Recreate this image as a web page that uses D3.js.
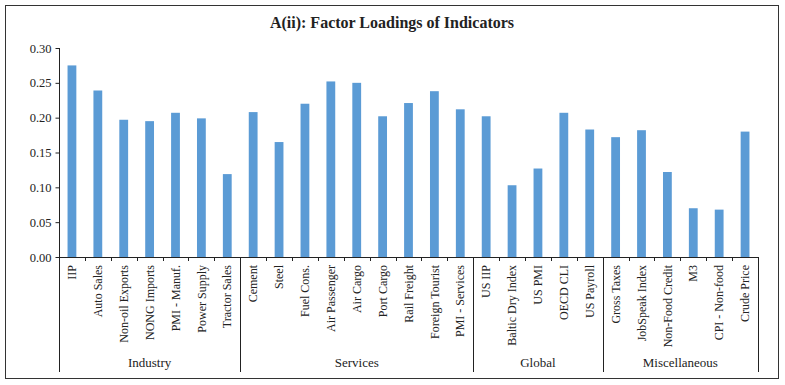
<!DOCTYPE html>
<html>
<head>
<meta charset="utf-8">
<script src="https://cdn.jsdelivr.net/npm/d3@7"></script>
<style>
  body { margin: 0; background: #fff; }
  text { font-family: "Liberation Serif", "DejaVu Serif", serif; fill: #222; }
</style>
</head>
<body>
<div id="chart"></div>
<script>
// indicator names, in chart order
var indicators = ["IIP", "Auto Sales", "Non-oil Exports", "NONG Imports", "PMI - Manuf.", "Power Supply", "Tractor Sales",
  "Cement", "Steel", "Fuel Cons.", "Air Passenger", "Air Cargo", "Port Cargo", "Rail Freight", "Foreign Tourist", "PMI - Services",
  "US IIP", "Baltic Dry Index", "US PMI", "OECD CLI", "US Payroll",
  "Gross Taxes", "JobSpeak Index", "Non-Food Credit", "M3", "CPI - Non-food", "Crude Price"];
var loadings = [0.275, 0.239, 0.197, 0.195, 0.207, 0.199, 0.119,
  0.208, 0.165, 0.220, 0.252, 0.250, 0.202, 0.221, 0.238, 0.212,
  0.202, 0.103, 0.127, 0.207, 0.183,
  0.172, 0.182, 0.122, 0.070, 0.068, 0.180];
var groupNames = ["Industry", "Services", "Global", "Miscellaneous"];
var groupSizes = [7, 9, 5, 6];
var yTicks = [0, 0.05, 0.10, 0.15, 0.20, 0.25, 0.30];

var width = 785, height = 385;
var plotLeft = 59, plotRight = 758, plotTop = 48, plotBottom = 257, groupBottom = 372;

var svg = d3.select("#chart").append("svg")
  .attr("width", width)
  .attr("height", height);

// outer frame
svg.append("rect")
  .attr("x", 5.5).attr("y", 5.5)
  .attr("width", 773).attr("height", 373)
  .attr("fill", "none")
  .attr("stroke", "#333")
  .attr("stroke-width", 1);

svg.append("text")
  .attr("x", 392).attr("y", 28)
  .attr("text-anchor", "middle")
  .style("font-size", "16px")
  .style("font-weight", "bold")
  .text("A(ii): Factor Loadings of Indicators");

var x = d3.scaleBand()
  .domain(indicators)
  .range([plotLeft, plotRight])
  .paddingInner(0.66)
  .paddingOuter(0.33);

var y = d3.scaleLinear()
  .domain([0, 0.30])
  .range([plotBottom, plotTop]);

// bars
svg.append("g").selectAll("rect")
  .data(indicators)
  .enter().append("rect")
  .attr("x", function(d) { return x(d); })
  .attr("y", function(d, i) { return y(loadings[i]); })
  .attr("width", x.bandwidth())
  .attr("height", function(d, i) { return plotBottom - y(loadings[i]); })
  .attr("fill", "#5B9BD5");

// y axis
var yAxis = svg.append("g")
  .attr("transform", "translate(" + (plotLeft + 0.5) + ",0)")
  .call(d3.axisLeft(y).tickValues(yTicks).tickFormat(d3.format(".2f")).tickSize(4).tickPadding(4));
yAxis.select(".domain").remove();
yAxis.selectAll("line").attr("stroke", "#222");
yAxis.selectAll("text").style("font-size", "12.5px").style("font-family", "Liberation Serif, serif");

svg.append("line")
  .attr("x1", plotLeft + 0.5).attr("x2", plotLeft + 0.5)
  .attr("y1", plotTop).attr("y2", groupBottom)
  .attr("stroke", "#222");

// x axis line
svg.append("line")
  .attr("x1", plotLeft).attr("x2", plotRight)
  .attr("y1", plotBottom + 0.5).attr("y2", plotBottom + 0.5)
  .attr("stroke", "#222");

var step = x.step();

// category ticks and labels
var cats = svg.append("g");
indicators.forEach(function(d, i) {
  var edge = Math.round(plotLeft + (i + 1) * step) + 0.5;
  cats.append("line")
    .attr("x1", edge).attr("x2", edge)
    .attr("y1", plotBottom).attr("y2", plotBottom + 4)
    .attr("stroke", "#222");
  var cx = x(d) + x.bandwidth() / 2;
  cats.append("text")
    .attr("transform", "translate(" + cx + "," + (plotBottom + 8) + ") rotate(-90)")
    .attr("text-anchor", "end")
    .attr("dy", "0.35em")
    .style("font-size", "12px")
    .text(d);
});

// group separators and names
var start = 0;
groupNames.forEach(function(g, k) {
  var end = start + groupSizes[k];
  var x0 = plotLeft + start * step;
  var x1 = plotLeft + end * step;
  var sx = Math.round(x1) + 0.5;
  svg.append("line")
    .attr("x1", sx).attr("x2", sx)
    .attr("y1", plotBottom).attr("y2", groupBottom)
    .attr("stroke", "#222");
  svg.append("text")
    .attr("x", (x0 + x1) / 2)
    .attr("y", 367)
    .attr("text-anchor", "middle")
    .style("font-size", "13px")
    .text(g);
  start = end;
});
</script>
</body>
</html>
